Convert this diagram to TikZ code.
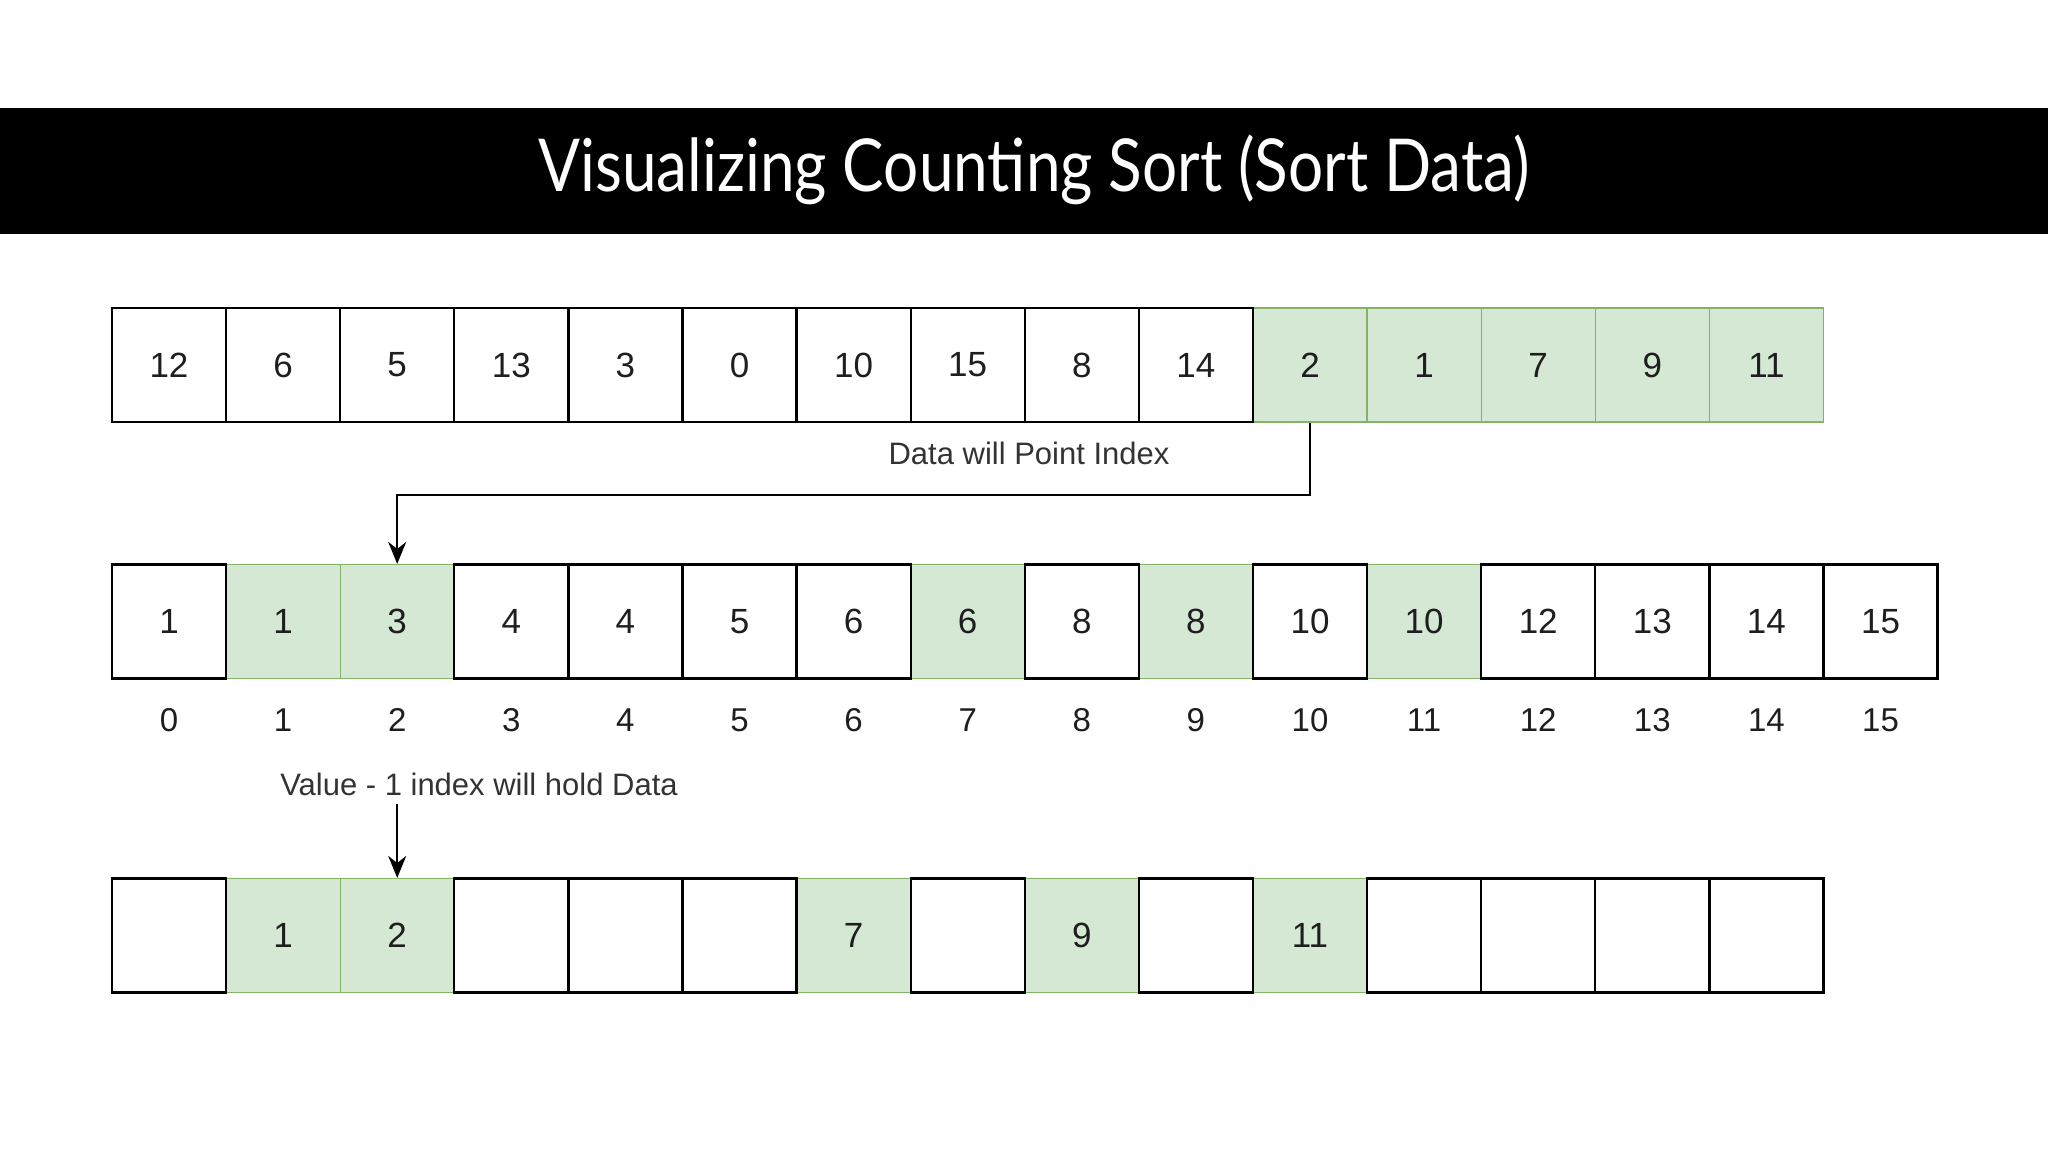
\documentclass[tikz,border=0pt]{standalone}
\usepackage{fontspec}
\setmainfont{Liberation Sans}
\newfontfamily\titlefont[FakeStretch=0.85]{Lato}
\usetikzlibrary{positioning, arrows.meta}
\definecolor{hlfill}{HTML}{D5E8D4}
\definecolor{hldraw}{HTML}{82B366}
\definecolor{numtext}{HTML}{1E1E1E}
\tikzstyle{cell} = [rectangle, minimum width=114pt, minimum height=114pt, inner sep=0pt, draw=black, line width=2.2pt, text=numtext, font=\fontsize{35}{40}\selectfont]
\tikzstyle{hcell} = [cell, draw=hldraw, fill=hlfill, line width=1.2pt]
\tikzstyle{idx} = [inner sep=0pt, text=numtext, font=\fontsize{33}{38}\selectfont]
\tikzstyle{note} = [inner sep=0pt, text=black!80, font=\fontsize{31}{36}\selectfont]
\tikzstyle{arrow} = [line width=2pt, -{Stealth[length=22pt, width=18pt]}]

\begin{document}
\begin{tikzpicture}[x=1pt, y=-1pt]
	\useasboundingbox (0,0) rectangle (2048,1152);
	\fill[black] (0,108) rectangle (2048,234);
	\node(title) [text=white, font=\titlefont\fontsize{73}{84}\selectfont] at (1034,170) {Visualizing Counting Sort (Sort Data)};
	
	% data
	\foreach \i/\v in {10/2,11/1,12/7,13/9,14/11}
		\node(t\i) [hcell] at (169+114.1*\i,365) {\v};
	\foreach \i/\v in {0/12,1/6,2/5,3/13,4/3,5/0,6/10,7/15,8/8,9/14}
		\node(t\i) [cell] at (169+114.1*\i,365) {\v};
	
	% count
	\foreach \i/\v in {1/1,2/3,7/6,9/8,11/10}
		\node(m\i) [hcell] at (169+114.1*\i,621.5) {\v};
	\foreach \i/\v in {0/1,3/4,4/4,5/5,6/6,8/8,10/10,12/12,13/13,14/14,15/15}
		\node(m\i) [cell] at (169+114.1*\i,621.5) {\v};
	\foreach \i in {0,...,15}
		\node(ix\i) [idx, below=29pt of m\i] {\i};
	
	% output
	\foreach \i/\v in {1/1,2/2,6/7,8/9,10/11}
		\node(b\i) [hcell] at (169+114.1*\i,935.5) {\v};
	\foreach \i in {0,3,4,5,7,9,11,12,13,14}
		\node(b\i) [cell] at (169+114.1*\i,935.5) {};
	
	\node(pointnote) [note] at (1029,453) {Data will Point Index};
	\node(holdnote) [note] at (479,784) {Value - 1 index will hold Data};
	
	\draw[arrow] (t10.south) -- ++(0,72) -| (m2.north);
	\draw[arrow] ([yshift=-8pt]holdnote.south -| b2.north) -- (b2.north);
\end{tikzpicture}
\end{document}
